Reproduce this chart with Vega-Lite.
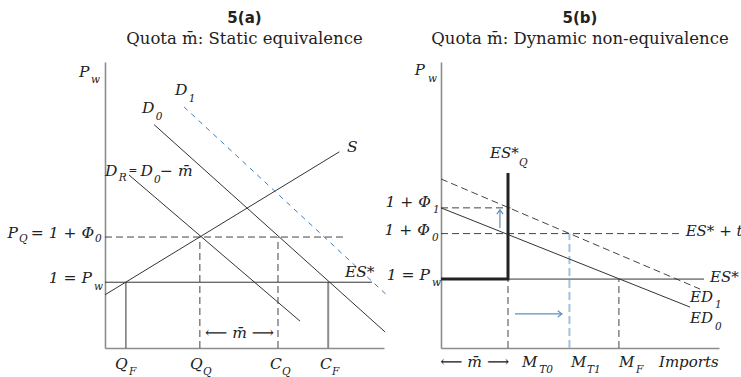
{
  "$schema": "https://vega.github.io/schema/vega-lite/v6.json",
  "background": "white",
  "padding": {"left": 7, "top": 10, "right": 0, "bottom": 0},
  "bounds": "flush",
  "spacing": 57,
  "config": {"view": {"stroke": null}, "font": "DejaVu Serif"},
  "datasets": {
    "left_curves": [
      {"id": "S", "k": 0, "u": 0, "v": 18.6}, {"id": "S", "k": 1, "u": 84, "v": 68.6},
      {"id": "D0", "k": 0, "u": 17.6, "v": 78.1}, {"id": "D0", "k": 1, "u": 100.4, "v": 5.6},
      {"id": "DR", "k": 0, "u": 8.6, "v": 60.5}, {"id": "DR", "k": 1, "u": 69.9, "v": 9.4},
      {"id": "Pw", "k": 0, "u": 0, "v": 23}, {"id": "Pw", "k": 1, "u": 95.7, "v": 23},
      {"id": "QF", "k": 0, "u": 7.5, "v": 0}, {"id": "QF", "k": 1, "u": 7.5, "v": 23},
      {"id": "CF", "k": 0, "u": 80, "v": 0}, {"id": "CF", "k": 1, "u": 80, "v": 23},
      {"id": "PQ", "k": 0, "u": 0, "v": 38.8}, {"id": "PQ", "k": 1, "u": 86, "v": 38.8},
      {"id": "QQ", "k": 0, "u": 34, "v": 0}, {"id": "QQ", "k": 1, "u": 34, "v": 38.8},
      {"id": "CQ", "k": 0, "u": 62, "v": 0}, {"id": "CQ", "k": 1, "u": 62, "v": 38.8},
      {"id": "D1", "k": 0, "u": 28.3, "v": 84.3}, {"id": "D1", "k": 1, "u": 101.8, "v": 17.8}
    ],
    "left_labels": [
      {"u": -9.3, "v": 96.5, "t": "P"},
      {"u": 13.3, "v": 83.9, "t": "D"},
      {"u": 25.1, "v": 90.2, "t": "D"},
      {"u": 0, "v": 61.9, "t": "D"},
      {"u": 12.7, "v": 61.9, "t": "D"},
      {"u": 19.7, "v": 61.9, "t": "− m̄"},
      {"u": 86.7, "v": 70.3, "t": "S"},
      {"u": 86, "v": 26.6, "t": "ES*"},
      {"u": 3.6, "v": -5.6, "t": "Q"},
      {"u": 30.5, "v": -5.6, "t": "Q"},
      {"u": 59.1, "v": -5.6, "t": "C"},
      {"u": 77.1, "v": -5.6, "t": "C"}
    ],
    "left_ylabels": [
      {"u": -31.2, "v": 40.2, "t": "P"},
      {"u": -3.9, "v": 40.2, "t": "= 1 + Φ"},
      {"u": -4.7, "v": 24.5, "t": "1 = P"}
    ],
    "left_subs": [
      {"u": -5.0, "v": 93.7, "t": "w"},
      {"u": 18.2, "v": 80.8, "t": "0"},
      {"u": 30.0, "v": 86.9, "t": "1"},
      {"u": 4.9, "v": 59.4, "t": "R"},
      {"u": 8.4, "v": 61.9, "t": "="},
      {"u": 17.6, "v": 58.7, "t": "0"},
      {"u": -30.8, "v": 38.1, "t": "Q"},
      {"u": -3.6, "v": 38.1, "t": "0"},
      {"u": -3.9, "v": 21.3, "t": "w"},
      {"u": 8.6, "v": -8.4, "t": "F"},
      {"u": 35.1, "v": -8.4, "t": "Q"},
      {"u": 63.4, "v": -8.4, "t": "Q"},
      {"u": 81.4, "v": -8.4, "t": "F"}
    ],
    "left_span": [
      {"u": 48.2, "v": 5.2, "t": "⟵ m̄ ⟶"}
    ],
    "right_curves": [
      {"id": "ED0", "k": 0, "u": 0, "v": 49}, {"id": "ED0", "k": 1, "u": 89.6, "v": 14.3},
      {"id": "ES", "k": 0, "u": 24.1, "v": 24.1}, {"id": "ES", "k": 1, "u": 94.6, "v": 24.1},
      {"id": "ESQ", "k": 0, "u": 0, "v": 24.1}, {"id": "ESQ", "k": 1, "u": 24.1, "v": 24.1}, {"id": "ESQ", "k": 2, "u": 24.1, "v": 61.2},
      {"id": "ED1", "k": 0, "u": 0, "v": 59.1}, {"id": "ED1", "k": 1, "u": 93.2, "v": 20.6},
      {"id": "ESt", "k": 0, "u": 0, "v": 40}, {"id": "ESt", "k": 1, "u": 85.6, "v": 40},
      {"id": "Phi1", "k": 0, "u": 0, "v": 49}, {"id": "Phi1", "k": 1, "u": 25, "v": 49},
      {"id": "MT0", "k": 0, "u": 24.1, "v": 0}, {"id": "MT0", "k": 1, "u": 24.1, "v": 24.1},
      {"id": "MF", "k": 0, "u": 64, "v": 0}, {"id": "MF", "k": 1, "u": 64, "v": 24.1},
      {"id": "MT1", "k": 0, "u": 46.2, "v": 0}, {"id": "MT1", "k": 1, "u": 46.2, "v": 40},
      {"id": "up", "k": 0, "u": 21.2, "v": 42}, {"id": "up", "k": 1, "u": 21.2, "v": 48.3},
      {"id": "right", "k": 0, "u": 26.6, "v": 11.9}, {"id": "right", "k": 1, "u": 43.5, "v": 11.9}
    ],
    "right_heads": [
      {"id": "up", "u": 21.2, "v": 48.3},
      {"id": "right", "u": 43.5, "v": 11.9}
    ],
    "right_labels": [
      {"u": -9.4, "v": 97.2, "t": "P"},
      {"u": 17.6, "v": 68.2, "t": "ES*"},
      {"u": 88.0, "v": 40.9, "t": "ES* + t"},
      {"u": 96.8, "v": 24.8, "t": "ES*"},
      {"u": 89.6, "v": 17.8, "t": "ED"},
      {"u": 89.6, "v": 10.5, "t": "ED"},
      {"u": 29.1, "v": -4.9, "t": "M"},
      {"u": 46.8, "v": -4.9, "t": "M"},
      {"u": 64.0, "v": -4.9, "t": "M"},
      {"u": 78.4, "v": -4.9, "t": "Imports"}
    ],
    "right_ylabels": [
      {"u": -3.6, "v": 51.0, "t": "1 + Φ"},
      {"u": -4.0, "v": 41.3, "t": "1 + Φ"},
      {"u": -4.0, "v": 25.5, "t": "1 = P"}
    ],
    "right_subs": [
      {"u": -4.7, "v": 94.1, "t": "w"},
      {"u": -2.9, "v": 48.3, "t": "1"},
      {"u": -3.2, "v": 38.5, "t": "0"},
      {"u": -3.2, "v": 22.7, "t": "w"},
      {"u": 28.1, "v": 64.7, "t": "Q"},
      {"u": 98.6, "v": 15.0, "t": "1"},
      {"u": 98.6, "v": 7.3, "t": "0"},
      {"u": 35.3, "v": -7.7, "t": "T0"},
      {"u": 52.5, "v": -7.7, "t": "T1"},
      {"u": 70.1, "v": -7.7, "t": "F"}
    ],
    "right_span": [
      {"u": 12.1, "v": -4.9, "t": "⟵ m̄ ⟶"}
    ]
  },
  "hconcat": [
    {
      "width": 279,
      "height": 286,
      "title": {
        "text": "5(a)",
        "subtitle": "Quota m̄: Static equivalence",
        "anchor": "middle",
        "frame": "group",
        "font": "DejaVu Sans",
        "fontSize": 15,
        "fontWeight": "bold",
        "color": "#222",
        "subtitleFont": "DejaVu Serif",
        "subtitleFontSize": 16.5,
        "subtitleColor": "#222",
        "subtitlePadding": 5,
        "offset": 15
      },
      "encoding": {
        "x": {"field": "u", "type": "quantitative", "scale": {"domain": [0, 100], "nice": false, "zero": false},
              "axis": {"orient": "bottom", "domainColor": "#8c8c8c", "domainWidth": 1.6, "ticks": false, "labels": false, "grid": false, "title": null}},
        "y": {"field": "v", "type": "quantitative", "scale": {"domain": [0, 100], "nice": false, "zero": false},
              "axis": {"orient": "left", "domainColor": "#8c8c8c", "domainWidth": 1.6, "ticks": false, "labels": false, "grid": false, "title": null}}
      },
      "layer": [
        {
          "data": {"name": "left_curves"},
          "transform": [{"filter": {"field": "id", "oneOf": ["D1"]}}],
          "mark": {"type": "line", "color": "#3d7cc0", "strokeWidth": 1, "strokeDash": [5, 5], "clip": false},
          "encoding": {"detail": {"field": "id"}, "order": {"field": "k"}}
        },
        {
          "data": {"name": "left_curves"},
          "transform": [{"filter": {"field": "id", "oneOf": ["PQ", "QQ", "CQ"]}}],
          "mark": {"type": "line", "color": "#444", "strokeWidth": 1, "strokeDash": [7, 4], "clip": false},
          "encoding": {"detail": {"field": "id"}, "order": {"field": "k"}}
        },
        {
          "data": {"name": "left_curves"},
          "transform": [{"filter": {"field": "id", "oneOf": ["CF"]}}],
          "mark": {"type": "line", "color": "#8c8c8c", "strokeWidth": 2, "clip": false},
          "encoding": {"detail": {"field": "id"}, "order": {"field": "k"}}
        },
        {
          "data": {"name": "left_curves"},
          "transform": [{"filter": {"field": "id", "oneOf": ["S", "D0", "DR", "Pw", "QF"]}}],
          "mark": {"type": "line", "color": "#333", "strokeWidth": 1, "clip": false},
          "encoding": {"detail": {"field": "id"}, "order": {"field": "k"}}
        },
        {
          "data": {"name": "left_labels"},
          "mark": {"type": "text", "align": "left", "baseline": "middle", "font": "DejaVu Serif", "fontStyle": "italic", "fontSize": 15.5, "color": "#222"},
          "encoding": {"text": {"field": "t"}}
        },
        {
          "data": {"name": "left_ylabels"},
          "mark": {"type": "text", "align": "right", "baseline": "middle", "font": "DejaVu Serif", "fontStyle": "italic", "fontSize": 15.5, "color": "#222"},
          "encoding": {"text": {"field": "t"}}
        },
        {
          "data": {"name": "left_subs"},
          "mark": {"type": "text", "align": "left", "baseline": "middle", "font": "DejaVu Serif", "fontStyle": "italic", "fontSize": 10.5, "color": "#222"},
          "encoding": {"text": {"field": "t"}}
        },
        {
          "data": {"name": "left_span"},
          "mark": {"type": "text", "align": "center", "baseline": "middle", "font": "DejaVu Serif", "fontStyle": "italic", "fontSize": 15.5, "color": "#222"},
          "encoding": {"text": {"field": "t"}}
        }
      ]
    },
    {
      "width": 278,
      "height": 286,
      "title": {
        "text": "5(b)",
        "subtitle": "Quota m̄: Dynamic non-equivalence",
        "anchor": "middle",
        "frame": "group",
        "font": "DejaVu Sans",
        "fontSize": 15,
        "fontWeight": "bold",
        "color": "#222",
        "subtitleFont": "DejaVu Serif",
        "subtitleFontSize": 16.5,
        "subtitleColor": "#222",
        "subtitlePadding": 5,
        "offset": 15
      },
      "encoding": {
        "x": {"field": "u", "type": "quantitative", "scale": {"domain": [0, 100], "nice": false, "zero": false},
              "axis": {"orient": "bottom", "domainColor": "#8c8c8c", "domainWidth": 1.6, "ticks": false, "labels": false, "grid": false, "title": null}},
        "y": {"field": "v", "type": "quantitative", "scale": {"domain": [0, 100], "nice": false, "zero": false},
              "axis": {"orient": "left", "domainColor": "#8c8c8c", "domainWidth": 1.6, "ticks": false, "labels": false, "grid": false, "title": null}}
      },
      "layer": [
        {
          "data": {"name": "right_curves"},
          "transform": [{"filter": {"field": "id", "oneOf": ["MT1"]}}],
          "mark": {"type": "line", "color": "#a3c2de", "strokeWidth": 2, "strokeDash": [8, 4], "clip": false},
          "encoding": {"detail": {"field": "id"}, "order": {"field": "k"}}
        },
        {
          "data": {"name": "right_curves"},
          "transform": [{"filter": {"field": "id", "oneOf": ["ED1", "ESt", "Phi1", "MT0", "MF"]}}],
          "mark": {"type": "line", "color": "#444", "strokeWidth": 1, "strokeDash": [7, 4], "clip": false},
          "encoding": {"detail": {"field": "id"}, "order": {"field": "k"}}
        },
        {
          "data": {"name": "right_curves"},
          "transform": [{"filter": {"field": "id", "oneOf": ["ED0", "ES"]}}],
          "mark": {"type": "line", "color": "#333", "strokeWidth": 1, "clip": false},
          "encoding": {"detail": {"field": "id"}, "order": {"field": "k"}}
        },
        {
          "data": {"name": "right_curves"},
          "transform": [{"filter": {"field": "id", "oneOf": ["ESQ"]}}],
          "mark": {"type": "line", "color": "#222", "strokeWidth": 3, "strokeJoin": "miter", "clip": false},
          "encoding": {"detail": {"field": "id"}, "order": {"field": "k"}}
        },
        {
          "data": {"name": "right_curves"},
          "transform": [{"filter": {"field": "id", "oneOf": ["up", "right"]}}],
          "mark": {"type": "line", "color": "#5e8fbf", "strokeWidth": 1.2, "clip": false},
          "encoding": {"detail": {"field": "id"}, "order": {"field": "k"}}
        },
        {
          "data": {"name": "right_heads"},
          "transform": [{"filter": {"field": "id", "equal": "up"}}],
          "mark": {"type": "point", "shape": "M-0.75,1L0,0L0.75,1", "filled": false, "stroke": "#5e8fbf", "strokeWidth": 1.2, "size": 70, "opacity": 1, "clip": false}
        },
        {
          "data": {"name": "right_heads"},
          "transform": [{"filter": {"field": "id", "equal": "right"}}],
          "mark": {"type": "point", "shape": "M-1,-0.75L0,0L-1,0.75", "filled": false, "stroke": "#5e8fbf", "strokeWidth": 1.2, "size": 70, "opacity": 1, "clip": false}
        },
        {
          "data": {"name": "right_labels"},
          "mark": {"type": "text", "align": "left", "baseline": "middle", "font": "DejaVu Serif", "fontStyle": "italic", "fontSize": 15, "color": "#222"},
          "encoding": {"text": {"field": "t"}}
        },
        {
          "data": {"name": "right_ylabels"},
          "mark": {"type": "text", "align": "right", "baseline": "middle", "font": "DejaVu Serif", "fontStyle": "italic", "fontSize": 15.5, "color": "#222"},
          "encoding": {"text": {"field": "t"}}
        },
        {
          "data": {"name": "right_subs"},
          "mark": {"type": "text", "align": "left", "baseline": "middle", "font": "DejaVu Serif", "fontStyle": "italic", "fontSize": 10.5, "color": "#222"},
          "encoding": {"text": {"field": "t"}}
        },
        {
          "data": {"name": "right_span"},
          "mark": {"type": "text", "align": "center", "baseline": "middle", "font": "DejaVu Serif", "fontStyle": "italic", "fontSize": 15.5, "color": "#222"},
          "encoding": {"text": {"field": "t"}}
        }
      ]
    }
  ]
}
